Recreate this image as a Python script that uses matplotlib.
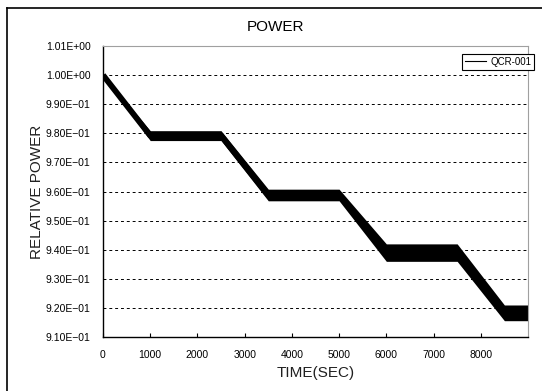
import matplotlib.pyplot as plt
from matplotlib.lines import Line2D
from matplotlib.ticker import FuncFormatter

# breakpoints of the trace
time = [0, 1000, 2500, 3500, 5000, 6000, 7500, 8500, 9000]
power = [1.000, 0.9792, 0.9792, 0.9588, 0.9588, 0.9390, 0.9390, 0.9183, 0.9183]
# half height of the noisy band around the trace
spread = [0.0002, 0.0017, 0.0017, 0.0020, 0.0020, 0.0030, 0.0030, 0.0027, 0.0027]
xticks = [0, 1000, 2000, 3000, 4000, 5000, 6000, 7000, 8000]
yticks = [0.91, 0.92, 0.93, 0.94, 0.95, 0.96, 0.97, 0.98, 0.99, 1.00, 1.01]

plt.rcParams['font.family'] = ['Liberation Sans', 'DejaVu Sans']

W, H = 542, 391
fig = plt.figure(figsize=(W / 100, H / 100), dpi=100)
ax = fig.add_axes([103 / W, 1 - 337 / H, (528 - 103) / W, (337 - 46) / H])

lo = [p - s for p, s in zip(power, spread)]
hi = [p + s for p, s in zip(power, spread)]
ax.fill_between(time, lo, hi, color='black', lw=0)
ax.plot(time, power, color='black', lw=4.2, solid_capstyle='butt', label='QCR-001')

ax.set_xlim(0, 9000)
ax.set_ylim(0.91, 1.01)
ax.set_xticks(xticks)
ax.set_yticks(yticks)
ax.yaxis.set_major_formatter(FuncFormatter(lambda v, p: ('%.2E' % v).replace('-', '\u2212')))
ax.tick_params(axis='x', direction='in', length=3, labelsize=7.5, pad=9, width=0.8)
ax.tick_params(axis='y', length=0, labelsize=7.5, pad=9)
ax.grid(axis='y', color='black', linestyle=(0, (3, 3)), lw=0.7)
ax.set_axisbelow(True)

for s in ['top', 'right']:
    ax.spines[s].set_color('#a0a0a0')
for s in ['left', 'bottom']:
    ax.spines[s].set_color('black')
    ax.spines[s].set_linewidth(1.0)

ax.set_xlabel('TIME(SEC)', fontsize=11, labelpad=5, color='#202020')
ax.set_ylabel('RELATIVE POWER', fontsize=11, labelpad=1, color='#202020')
fig.text(276 / W, 1 - 27 / H, 'POWER', ha='center', va='center', fontsize=11)

handle = Line2D([], [], color='black', lw=0.8)
leg = fig.legend([handle], ['QCR-001'], loc='upper right',
                 bbox_to_anchor=(539 / W, 1 - 49 / H), fontsize=7,
                 handlelength=2.2, handletextpad=0.4, borderpad=0.3,
                 fancybox=False, framealpha=1, edgecolor='black')
leg.get_frame().set_linewidth(0.8)

# outer chart frame
fig.add_artist(Line2D([7 / W, 7 / W], [0, 1 - 8 / H], color='black', lw=1.2))
fig.add_artist(Line2D([7 / W, 1], [1 - 8 / H, 1 - 8 / H], color='black', lw=1.2))

fig.savefig('out.png', dpi=100)
